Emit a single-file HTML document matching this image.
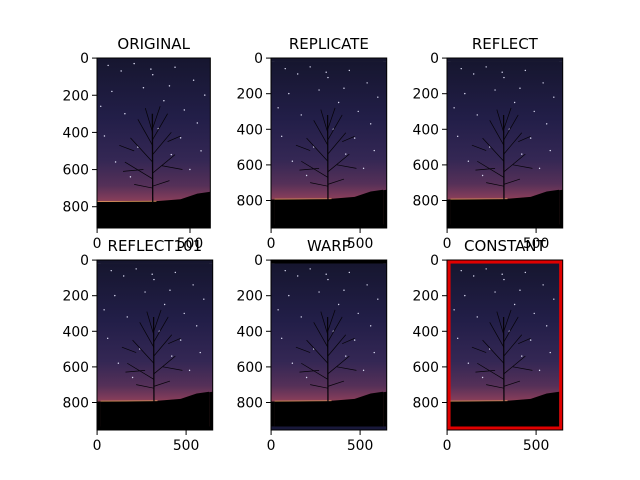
<!DOCTYPE html>
<html><head><meta charset="utf-8">
<style>
html,body{margin:0;padding:0;background:#fff;}
svg{display:block;font-family:"DejaVu Sans","Liberation Sans",sans-serif;}
</style></head>
<body>
<svg id="fig" width="640" height="480" viewBox="0 0 640 480" xmlns="http://www.w3.org/2000/svg">
<defs>
<linearGradient id="sky" x1="0" y1="0" x2="0" y2="1">
<stop offset="0" stop-color="#16162f"/>
<stop offset="0.35" stop-color="#221e48"/>
<stop offset="0.6" stop-color="#342754"/>
<stop offset="0.75" stop-color="#553058"/>
<stop offset="0.83" stop-color="#823c5a"/>
<stop offset="0.86" stop-color="#a04a50"/>
</linearGradient>
</defs>
</svg>
<script>
const titles = ["ORIGINAL","REPLICATE","REFLECT","REFLECT101","WARP","CONSTANT"];
const modes = ["none","replicate","reflect","reflect101","wrap","constant"];
const yTicks = [0,200,400,600,800];
const xTicks = [0,500];
const imgW = 610, imgH = 915, pad = 20;

const svg = document.getElementById('fig');
const NS = "http://www.w3.org/2000/svg";
function mk(tag, attrs, parent){const e=document.createElementNS(NS,tag);for(const k in attrs)e.setAttribute(k,attrs[k]);(parent||svg).appendChild(e);return e;}

const colX = [97, 271, 447];
const rowY = [58, 260];
const axH = 170;

const stars = [[60,40],[130,70],[200,30],[300,90],[420,50],[520,120],[580,200],[80,180],[250,160],[360,230],[470,280],[150,300],[540,350],[40,420],[330,380],[450,430],[220,480],[560,500],[100,560],[400,520],[500,600],[180,640],[290,60],[390,150],[20,260]];

function drawImage(g, simple){
  mk('rect',{x:0,y:0,width:imgW,height:imgH,fill:'url(#sky)'},g);
  mk('path',{d:`M0 775 L200 772 L330 770 L450 760 L540 730 L610 720 L${imgW} ${imgH} L0 ${imgH} Z`,fill:'#000'},g);
  if(simple) return;
  stars.forEach(s=>mk('circle',{cx:s[0],cy:s[1],r:4,fill:'#d8d8f0'},g));
  mk('line',{x1:0,y1:773,x2:320,y2:771,stroke:'#e8a060','stroke-width':4},g);
  const tr=mk('g',{stroke:'#050308','stroke-width':7,fill:'none'},g);
  mk('path',{d:'M300 780 L298 300'},tr);
  const br=[[299,650,150,560],[299,620,420,520],[299,560,180,430],[299,520,400,400],[299,470,220,330],[299,440,380,300],[299,400,260,270],[299,380,340,260],[200,500,120,470],[380,450,450,420],[299,700,200,680],[299,690,390,660],[250,600,140,610],[350,580,460,600]];
  br.forEach(b=>mk('line',{x1:b[0],y1:b[1],x2:b[2],y2:b[3],'stroke-width':4},tr));
}

modes.forEach((m,i)=>{
  const col=i%3,row=Math.floor(i/3);
  const W = m==='none'?imgW:imgW+2*pad, H = m==='none'?imgH:imgH+2*pad;
  const s = axH/H;
  const x0=colX[col], y0=rowY[row], w=W*s, h=H*s;
  const ax=mk('g',{});
  
  
  const cid='clip'+i;
  const cp=mk('clipPath',{id:cid},ax); mk('rect',{x:x0,y:y0,width:w,height:h},cp);
  const g=mk('g',{'clip-path':`url(#${cid})`},ax);
  const inner=mk('g',{transform:`translate(${x0},${y0}) scale(${s})`},g);
  if(m==='none'){drawImage(inner,false);}
  else{
    const bg=mk('g',{},inner);
    if(m==='constant'){mk('rect',{x:0,y:0,width:W,height:H,fill:'#e00000'},bg);}
    else {
      const st=mk('g',{transform:`translate(0,${pad}) scale(${W/imgW},1)`},bg);
      drawImage(st,true);
      if(m==='wrap'){
        mk('rect',{x:0,y:0,width:W,height:pad,fill:'#000'},bg);
        mk('rect',{x:0,y:H-pad,width:W,height:pad,fill:'#18183a'},bg);
      } else {
        mk('rect',{x:0,y:0,width:W,height:pad,fill:'#16162f'},bg);
        mk('rect',{x:0,y:H-pad,width:W,height:pad,fill:'#000'},bg);
      }
    }
    const ig=mk('g',{transform:`translate(${pad},${pad})`},inner);
    drawImage(ig,false);
  }
  mk('rect',{x:x0,y:y0,width:w,height:h,fill:'none',stroke:'#000','stroke-width':1},ax);
  yTicks.forEach(v=>{
    const y=y0+(v+0.5)*s;
    mk('line',{x1:x0-5,y1:y,x2:x0,y2:y,stroke:'#000','stroke-width':1},ax);
    const t=mk('text',{x:x0-8,y:y+5,'text-anchor':'end','font-size':13.9,fill:'#000'},ax);
    
    
    t.textContent=v;
  });
  xTicks.forEach(v=>{
    const x=x0+(v+0.5)*s;
    mk('line',{x1:x,y1:y0+h,x2:x,y2:y0+h+5,stroke:'#000','stroke-width':1},ax);
    const t=mk('text',{x:x,y:y0+h+20,'text-anchor':'middle','font-size':13.9,fill:'#000'},ax);
    
    
    t.textContent=v;
  });
  const tt=mk('text',{x:x0+w/2,y:y0-9,'text-anchor':'middle','font-size':15,fill:'#000'},ax);
  
  
  tt.textContent=titles[i];
});
</script>
</body></html>
